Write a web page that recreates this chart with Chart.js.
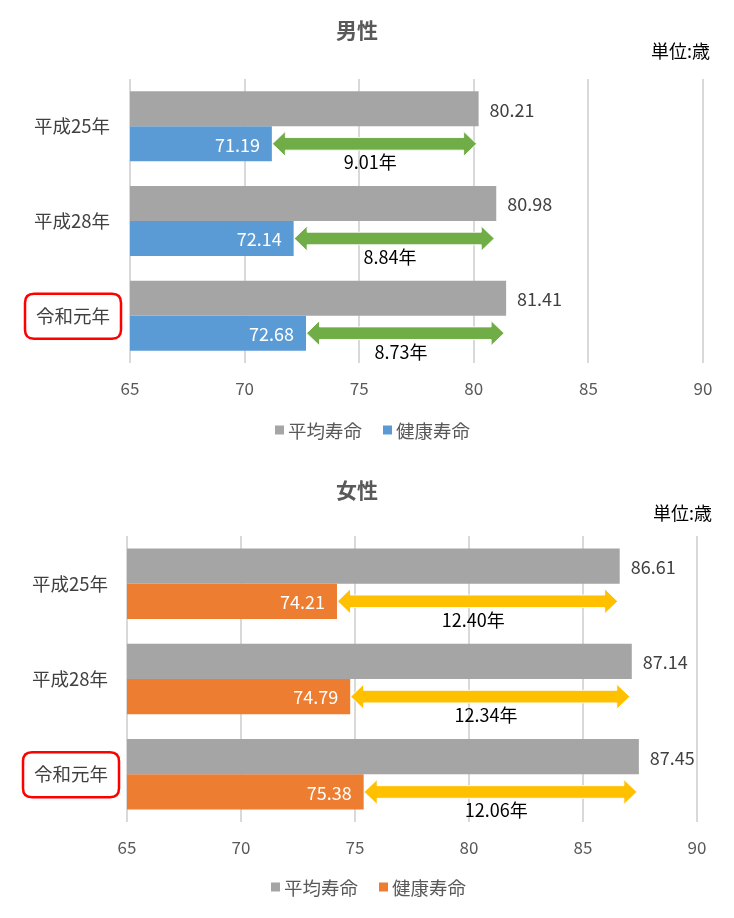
<!DOCTYPE html>
<html>
<head>
<meta charset="utf-8">
<script src="https://cdn.jsdelivr.net/npm/chart.js@4.4.0/dist/chart.umd.min.js"></script>
<style>
    body { margin: 0; background: #fff; }
    canvas { display: block; }
</style>
</head>
<body>
<canvas id="maleChart" width="734" height="459"></canvas>
<canvas id="femaleChart" width="734" height="459"></canvas>
<script>
// Data
const categories = ['平成25年', '平成28年', '令和元年'];
const seriesNames = ['平均寿命', '健康寿命'];
const xTicks = [65, 70, 75, 80, 85, 90];

const maleAverage = [80.21, 80.98, 81.41];
const maleHealthy = [71.19, 72.14, 72.68];
const maleGap = ['9.01年', '8.84年', '8.73年'];

const femaleAverage = [86.61, 87.14, 87.45];
const femaleHealthy = [74.21, 74.79, 75.38];
const femaleGap = ['12.40年', '12.34年', '12.06年'];

const FONT = "'Noto Sans CJK JP', 'Noto Sans', sans-serif";
Chart.defaults.font.family = FONT;

function drawArrow(ctx, x1, x2, y, color) {
    const head = 13, hh = 12.5, sh = 6.3;
    ctx.beginPath();
    ctx.moveTo(x1, y);
    ctx.lineTo(x1 + head, y - hh);
    ctx.lineTo(x1 + head, y - sh);
    ctx.lineTo(x2 - head, y - sh);
    ctx.lineTo(x2 - head, y - hh);
    ctx.lineTo(x2, y);
    ctx.lineTo(x2 - head, y + hh);
    ctx.lineTo(x2 - head, y + sh);
    ctx.lineTo(x1 + head, y + sh);
    ctx.lineTo(x1 + head, y + hh);
    ctx.closePath();
    ctx.fillStyle = color;
    ctx.fill();
    ctx.strokeStyle = 'rgba(255,255,255,0.9)';
    ctx.lineWidth = 1;
    ctx.stroke();
}

function roundRect(ctx, x, y, w, h, r) {
    ctx.beginPath();
    ctx.moveTo(x + r, y);
    ctx.lineTo(x + w - r, y);
    ctx.quadraticCurveTo(x + w, y, x + w, y + r);
    ctx.lineTo(x + w, y + h - r);
    ctx.quadraticCurveTo(x + w, y + h, x + w - r, y + h);
    ctx.lineTo(x + r, y + h);
    ctx.quadraticCurveTo(x, y + h, x, y + h - r);
    ctx.lineTo(x, y + r);
    ctx.quadraticCurveTo(x, y, x + r, y);
    ctx.closePath();
}

// Labels, arrows, title, legend and the red box
const annotations = {
    id: 'annotations',
    afterDatasetsDraw(chart, args, opts) {
        const ctx = chart.ctx;
        const avgMeta = chart.getDatasetMeta(0);
        const hlMeta = chart.getDatasetMeta(1);
        ctx.save();
        ctx.textBaseline = 'middle';
        avgMeta.data.forEach((bar, i) => {
            const hl = hlMeta.data[i];
            // average value, outside end
            ctx.font = '18px ' + FONT;
            ctx.fillStyle = '#404040';
            ctx.textAlign = 'left';
            ctx.fillText(chart.data.datasets[0].data[i].toFixed(2), bar.x + 11, bar.y + 1);
            // healthy value, inside end
            ctx.fillStyle = '#ffffff';
            ctx.textAlign = 'right';
            ctx.fillText(chart.data.datasets[1].data[i].toFixed(2), hl.x - 12, hl.y + 1);
            // gap arrow
            drawArrow(ctx, hl.x + 0.5, bar.x - 2, hl.y, opts.arrowColor);
            ctx.fillStyle = '#000000';
            ctx.textAlign = 'center';
            ctx.fillText(opts.gap[i], (hl.x + bar.x) / 2 - 5, hl.y + hl.height / 2 + 1);
        });

        // title
        ctx.font = 'bold 21px ' + FONT;
        ctx.fillStyle = '#595959';
        ctx.textAlign = 'center';
        ctx.fillText(opts.title, 357, opts.titleY);
        // unit
        ctx.font = '18px ' + FONT;
        ctx.fillStyle = '#000000';
        ctx.textAlign = 'right';
        ctx.fillText('単位:歳', opts.unitX, opts.unitY);

        // legend
        ctx.font = '18.5px ' + FONT;
        ctx.textAlign = 'left';
        let lx = opts.legendX;
        chart.data.datasets.forEach(ds => {
            ctx.fillStyle = ds.backgroundColor;
            ctx.fillRect(lx, opts.legendY - 4.5, 9, 9);
            ctx.fillStyle = '#595959';
            ctx.fillText(ds.label, lx + 13, opts.legendY + 1);
            lx += 13 + ctx.measureText(ds.label).width + 21;
        });

        // red box round the last category label
        const yScale = chart.scales.y;
        const cy = yScale.getPixelForValue(2);
        ctx.strokeStyle = '#FF0000';
        ctx.lineWidth = 2.5;
        roundRect(ctx, opts.boxX, cy - 22, 96, 45, 9);
        ctx.stroke();
        ctx.restore();
    }
};

function makeChart(id, average, healthy, cfg) {
    return new Chart(document.getElementById(id), {
        type: 'bar',
        data: {
            labels: categories,
            datasets: [{
                label: seriesNames[0],
                data: average,
                backgroundColor: '#A5A5A5'
            }, {
                label: seriesNames[1],
                data: healthy,
                backgroundColor: cfg.color
            }]
        },
        options: {
            indexAxis: 'y',
            responsive: false,
            animation: false,
            categoryPercentage: 0.74,
            barPercentage: 1,
            layout: {
                padding: { top: cfg.top, left: 0, right: cfg.right, bottom: 0 }
            },
            scales: {
                x: {
                    min: xTicks[0],
                    max: xTicks[xTicks.length - 1],
                    ticks: {
                        stepSize: xTicks[1] - xTicks[0],
                        color: '#595959',
                        font: { size: 17 },
                        padding: 15
                    },
                    grid: { color: '#D9D9D9', lineWidth: 2, drawTicks: false },
                    border: { display: false },
                    afterFit(scale) { scale.height = 459 - cfg.bottomEdge; }
                },
                y: {
                    ticks: {
                        color: '#404040',
                        font: { size: 18.5 },
                        padding: cfg.labelGap
                    },
                    grid: { display: false, drawTicks: false },
                    border: { display: false },
                    afterFit(scale) { scale.width = cfg.axisX; }
                }
            },
            plugins: {
                legend: { display: false },
                tooltip: { enabled: false },
                annotations: cfg.annot
            }
        },
        plugins: [annotations]
    });
}

makeChart('maleChart', maleAverage, maleHealthy, {
    color: '#5B9BD5',
    top: 79, right: 31, axisX: 130, bottomEdge: 363, labelGap: 20,
    annot: { title: '男性', titleY: 30, unitX: 710, unitY: 51, gap: maleGap, arrowColor: '#70AD47',
             boxX: 25, legendX: 275, legendY: 430 }
});

makeChart('femaleChart', femaleAverage, femaleHealthy, {
    color: '#ED7D31',
    top: 77, right: 37, axisX: 127, bottomEdge: 363, labelGap: 19,
    annot: { title: '女性', titleY: 31, unitX: 712, unitY: 54, gap: femaleGap, arrowColor: '#FFC000',
             boxX: 23, legendX: 271, legendY: 428 }
});
</script>
</body>
</html>
